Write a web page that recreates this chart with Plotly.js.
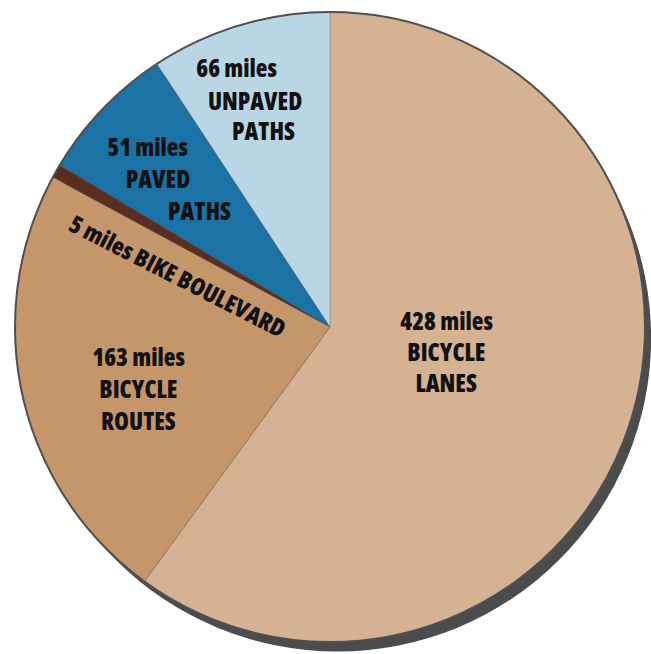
<!DOCTYPE html>
<html>
<head>
<meta charset="utf-8">
<script src="https://cdn.plot.ly/plotly-3.0.1.min.js"></script>
<style>
html,body{margin:0;padding:0;background:#fff;}
#chart{width:651px;height:654px;}
#chart .annotation-text{font-stretch:condensed;}
</style>
</head>
<body>
<div id="chart"></div>
<script>
const categories = ["BICYCLE LANES", "BICYCLE ROUTES", "BIKE BOULEVARD", "PAVED PATHS", "UNPAVED PATHS"];
const miles = [428, 163, 5, 51, 66];
const sliceColors = ["#d5b291", "#c6966b", "#5b2e1f", "#1a72a5", "#b8d6e4"];

const W = 651, H = 654;
const cx = 330, cy = 327, R = 315;
function dom(cxp, cyp, r) {
  return { x: [(cxp - r) / W, (cxp + r) / W], y: [1 - (cyp + r) / H, 1 - (cyp - r) / H] };
}

const shadow = {
  type: "pie", values: [1], labels: ["shadow"], sort: false,
  marker: { colors: ["#4a4c4e"], line: { width: 0 } },
  textinfo: "none", hoverinfo: "skip", showlegend: false,
  domain: dom(cx + 10, cy + 11, R + 1)
};
const main = {
  type: "pie", values: miles, labels: categories, sort: false,
  direction: "clockwise", rotation: 0,
  marker: { colors: sliceColors, line: { color: "rgba(90,90,90,0.5)", width: 0.6 } },
  textinfo: "none", showlegend: false,
  domain: dom(cx, cy, R)
};
const outline = {
  type: "pie", values: [1], labels: ["outline"], sort: false,
  marker: { colors: ["rgba(0,0,0,0)"], line: { color: "#4f5052", width: 2 } },
  textinfo: "none", hoverinfo: "skip", showlegend: false,
  domain: dom(cx, cy, R)
};

const font = { family: "'Open Sans', 'Roboto Condensed', sans-serif", size: 24, weight: 800, stretch: "condensed", color: "#111" };
function lab(text, px, py, angle) {
  return { text: text, x: px / W, y: 1 - py / H, xref: "paper", yref: "paper",
           showarrow: false, font: font, textangle: angle || 0, xanchor: "center", yanchor: "middle" };
}
const annotations = [
  lab(miles[0] + " miles", 446, 320), lab("BICYCLE", 446, 351), lab("LANES", 446, 382),
  lab(miles[1] + " miles", 138, 356), lab("BICYCLE", 138, 388), lab("ROUTES", 138, 420),
  lab(miles[3] + " miles", 147, 146), lab("PAVED", 158, 178), lab("PATHS", 199, 210),
  lab(miles[4] + " miles", 236, 68), lab("UNPAVED", 255, 100), lab("PATHS", 263, 131),
  lab(miles[2] + " miles " + categories[2], 178, 275, 27)
];

Plotly.newPlot("chart", [shadow, main, outline], {
  width: W, height: H, margin: { l: 0, r: 0, t: 0, b: 0 },
  paper_bgcolor: "#fff", showlegend: false, annotations: annotations
}, { displayModeBar: false, staticPlot: true });
</script>
</body>
</html>
